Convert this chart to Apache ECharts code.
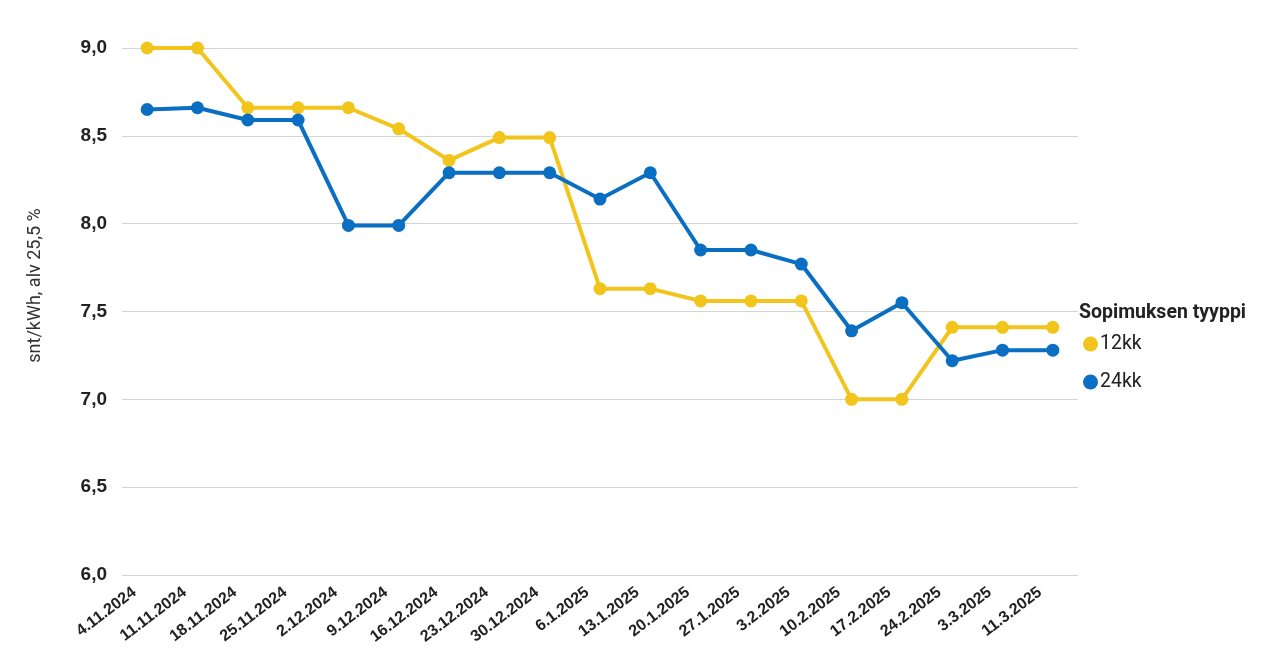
<!DOCTYPE html>
<html>
<head>
<meta charset="utf-8">
<script src="https://cdn.jsdelivr.net/npm/echarts@6/dist/echarts.min.js"></script>
<style>
html,body{margin:0;padding:0;background:#fff;}
#chart{width:1280px;height:663px;}
</style>
</head>
<body>
<div id="chart"></div>
<script>
const categories = ['4.11.2024','11.11.2024','18.11.2024','25.11.2024','2.12.2024','9.12.2024','16.12.2024','23.12.2024','30.12.2024','6.1.2025','13.1.2025','20.1.2025','27.1.2025','3.2.2025','10.2.2025','17.2.2025','24.2.2025','3.3.2025','11.3.2025'];
const series12kk = [9.00, 9.00, 8.66, 8.66, 8.66, 8.54, 8.36, 8.49, 8.49, 7.63, 7.63, 7.56, 7.56, 7.56, 7.00, 7.00, 7.41, 7.41, 7.41];
const series24kk = [8.65, 8.66, 8.59, 8.59, 7.99, 7.99, 8.29, 8.29, 8.29, 8.14, 8.29, 7.85, 7.85, 7.77, 7.39, 7.55, 7.22, 7.28, 7.28];
const seriesNames = ['12kk', '24kk'];
const legendTitle = 'Sopimuksen tyyppi';
const yAxisName = 'snt/kWh, alv 25,5 %';

const chart = echarts.init(document.getElementById('chart'), null, {renderer: 'canvas'});
chart.setOption({
  backgroundColor: '#fff',
  animation: false,
  title: {
    text: legendTitle,
    left: 1074,
    top: 298,
    textStyle: {fontFamily: 'Roboto', fontWeight: 'bold', fontSize: 19.5, color: '#222'}
  },
  legend: {
    orient: 'vertical',
    left: 1078,
    top: 329,
    itemGap: 18,
    itemWidth: 15,
    itemHeight: 15,
    icon: 'circle',
    data: seriesNames,
    textStyle: {fontFamily: 'Roboto', fontSize: 19.5, color: '#222', padding: [0,0,0,-3]}
  },
  grid: {left: 122, right: 202, top: 48, bottom: 88},
  xAxis: {
    type: 'category',
    data: categories,
    boundaryGap: true,
    axisLine: {show: false},
    axisTick: {show: false},
    axisLabel: {
      interval: 0,
      rotate: 37,
      margin: 6,
      padding: [0, 16, 0, 0],
      fontFamily: 'Liberation Sans',
      fontWeight: 'bold',
      fontSize: 16,
      color: '#222'
    }
  },
  yAxis: {
    type: 'value',
    min: 6,
    max: 9,
    interval: 0.5,
    name: yAxisName,
    nameLocation: 'middle',
    nameGap: 78,
    nameTextStyle: {fontFamily: 'Roboto', fontSize: 18, color: '#333', padding: [0, 0, 0, 52]},
    axisLine: {show: false},
    axisTick: {show: false},
    axisLabel: {
      margin: 15,
      fontFamily: 'Liberation Sans',
      fontWeight: 'bold',
      fontSize: 19,
      color: '#222',
      formatter: v => v.toFixed(1).replace('.', ',')
    },
    splitLine: {lineStyle: {color: '#d4d4d4', width: 1}}
  },
  series: [
    {
      name: seriesNames[0],
      type: 'line',
      data: series12kk,
      color: '#f1c51c',
      symbol: 'circle',
      symbolSize: 13,
      lineStyle: {width: 4},
      z: 2
    },
    {
      name: seriesNames[1],
      type: 'line',
      data: series24kk,
      color: '#0a6fc2',
      symbol: 'circle',
      symbolSize: 13,
      lineStyle: {width: 4},
      z: 3
    }
  ]
});
</script>
</body>
</html>
